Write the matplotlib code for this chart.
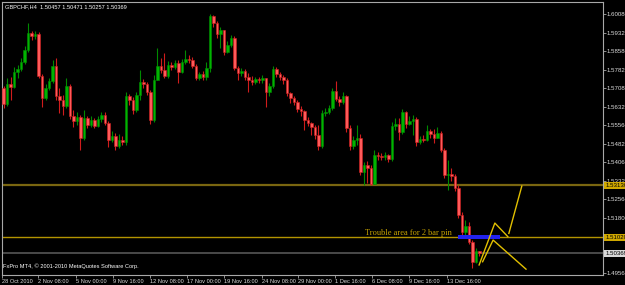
import matplotlib.pyplot as plt
from matplotlib import font_manager
import numpy as np

# narrow font if there is one, else Liberation Sans a bit smaller
installed = {f.name for f in font_manager.fontManager.ttflist}
if 'Liberation Sans Narrow' in installed:
    small_font, small_size, ylab_size = 'Liberation Sans Narrow', 4.8, 5.3
else:
    small_font, small_size, ylab_size = 'Liberation Sans', 4.1, 4.4
plt.rcParams['font.family'] = [small_font, 'DejaVu Sans']

symbol = "GBPCHF,H4"
first_open = 1.5708

# H4 candles
close = [
    1.5643, 1.5724, 1.5712, 1.5773, 1.5785, 1.5813, 1.5862, 1.5931, 1.5919, 1.5927,
    1.5757, 1.5667, 1.5708, 1.5736, 1.5797, 1.5676, 1.5659, 1.5635, 1.5716, 1.5594,
    1.5574, 1.5590, 1.5505, 1.5586, 1.5558, 1.5578, 1.5554, 1.5582, 1.5598, 1.5566,
    1.5497, 1.5513, 1.5473, 1.5497, 1.5489, 1.5676, 1.5659, 1.5619, 1.5680, 1.5732,
    1.5724, 1.5692, 1.5578, 1.5740, 1.5797, 1.5781, 1.5757, 1.5801, 1.5793, 1.5809,
    1.5773, 1.5813, 1.5826, 1.5822, 1.5797, 1.5749, 1.5765, 1.5753, 1.5789, 1.6000,
    1.5972, 1.5927, 1.5943, 1.5854, 1.5882, 1.5911, 1.5789, 1.5769, 1.5777, 1.5753,
    1.5740, 1.5732, 1.5745, 1.5740, 1.5749, 1.5692, 1.5716, 1.5785, 1.5765, 1.5753,
    1.5740, 1.5688, 1.5667, 1.5651, 1.5623, 1.5615, 1.5578, 1.5566, 1.5550, 1.5517,
    1.5473, 1.5607, 1.5611, 1.5627, 1.5696, 1.5663, 1.5651, 1.5676, 1.5546, 1.5473,
    1.5497, 1.5505, 1.5367, 1.5396, 1.5383, 1.5319, 1.5436, 1.5432, 1.5428, 1.5436,
    1.5420, 1.5554, 1.5562, 1.5529, 1.5611, 1.5562, 1.5574, 1.5582, 1.5489, 1.5501,
    1.5497, 1.5534, 1.5521, 1.5505, 1.5525, 1.5456, 1.5355, 1.5359, 1.5351, 1.5302,
    1.5193, 1.5124, 1.5148, 1.5083, 1.5002, 1.50457, 1.50369,
]
high = [
    1.5716, 1.5749, 1.5753, 1.5793, 1.5801, 1.5830, 1.5878, 1.5972, 1.5939, 1.5939,
    1.5935, 1.5765, 1.5724, 1.5749, 1.5822, 1.5830, 1.5708, 1.5680, 1.5749, 1.5724,
    1.5619, 1.5611, 1.5598, 1.5619, 1.5594, 1.5594, 1.5586, 1.5594, 1.5611, 1.5611,
    1.5574, 1.5534, 1.5525, 1.5521, 1.5513, 1.5692, 1.5684, 1.5671, 1.5692, 1.5781,
    1.5745, 1.5732, 1.5700, 1.5761, 1.5870, 1.5830, 1.5850, 1.5818, 1.5813, 1.5822,
    1.5822, 1.5826, 1.5862, 1.5842, 1.5834, 1.5805, 1.5773, 1.5777, 1.5813, 1.6008,
    1.6004, 1.5980, 1.5955, 1.5943, 1.5899, 1.5923, 1.5919, 1.5797, 1.5789, 1.5785,
    1.5769, 1.5757, 1.5753, 1.5753, 1.5761, 1.5749, 1.5728, 1.5797, 1.5793, 1.5773,
    1.5761, 1.5749, 1.5692, 1.5676, 1.5659, 1.5635, 1.5619, 1.5590, 1.5570, 1.5558,
    1.5558, 1.5619, 1.5627, 1.5639, 1.5708, 1.5736, 1.5676, 1.5692, 1.5680, 1.5558,
    1.5513, 1.5558, 1.5521, 1.5408, 1.5412, 1.5396, 1.5456, 1.5448, 1.5444, 1.5448,
    1.5440, 1.5570, 1.5586, 1.5586, 1.5623, 1.5615, 1.5594, 1.5598, 1.5590, 1.5513,
    1.5517, 1.5558, 1.5542, 1.5542, 1.5550, 1.5534, 1.5465, 1.5416, 1.5383, 1.5359,
    1.5314, 1.5205, 1.5172, 1.5164, 1.5091, 1.5059, 1.50471,
]
low = [
    1.5627, 1.5635, 1.5659, 1.5708, 1.5749, 1.5777, 1.5805, 1.5854, 1.5903, 1.5907,
    1.5749, 1.5631, 1.5659, 1.5700, 1.5728, 1.5659, 1.5607, 1.5598, 1.5627, 1.5582,
    1.5550, 1.5558, 1.5456, 1.5497, 1.5546, 1.5550, 1.5546, 1.5550, 1.5570, 1.5558,
    1.5469, 1.5489, 1.5456, 1.5465, 1.5477, 1.5477, 1.5639, 1.5603, 1.5611, 1.5659,
    1.5708, 1.5680, 1.5562, 1.5570, 1.5740, 1.5769, 1.5749, 1.5749, 1.5781, 1.5785,
    1.5728, 1.5769, 1.5805, 1.5809, 1.5789, 1.5740, 1.5740, 1.5740, 1.5740, 1.5773,
    1.5955, 1.5911, 1.5870, 1.5842, 1.5850, 1.5874, 1.5781, 1.5740, 1.5757, 1.5740,
    1.5692, 1.5720, 1.5724, 1.5728, 1.5728, 1.5631, 1.5676, 1.5708, 1.5753, 1.5740,
    1.5724, 1.5676, 1.5647, 1.5639, 1.5611, 1.5594, 1.5538, 1.5554, 1.5517, 1.5501,
    1.5456, 1.5465, 1.5594, 1.5603, 1.5619, 1.5655, 1.5635, 1.5643, 1.5529, 1.5456,
    1.5461, 1.5477, 1.5355, 1.5314, 1.5323, 1.5314, 1.5319, 1.5416, 1.5416, 1.5416,
    1.5408, 1.5412, 1.5538, 1.5497, 1.5521, 1.5546, 1.5558, 1.5517, 1.5473, 1.5481,
    1.5489, 1.5493, 1.5505, 1.5485, 1.5505, 1.5448, 1.5343, 1.5294, 1.5331, 1.5290,
    1.5180, 1.5112, 1.5112, 1.5075, 1.4978, 1.4998, 1.50257,
]

level_top = 1.53130
level_low = 1.51020
bid = 1.50369

y_ticks = [1.60080, 1.59320, 1.58580, 1.57820, 1.57080, 1.56320, 1.55560,
           1.54820, 1.54060, 1.53320, 1.52560, 1.51800, 1.51040, 1.49560]
x_labels = ["28 Oct 2010", "2 Nov 08:00", "5 Nov 00:00", "9 Nov 16:00",
            "12 Nov 08:00", "17 Nov 00:00", "19 Nov 16:00", "24 Nov 08:00",
            "29 Nov 00:00", "1 Dec 16:00", "6 Dec 08:00", "9 Dec 16:00",
            "13 Dec 16:00"]
x_label_bars = [-0.4, 9.9, 20.7, 31.3, 41.9, 52.4, 63.0, 73.9, 84.1, 94.7,
                105.3, 115.9, 126.6]

# hand drawn objects
zone_bars = (129.9, 141.9)
zone_prices = (1.5094, 1.5110)
path_up_bars = [135.9, 140.4, 144.1]
path_up_prices = [1.4990, 1.5160, 1.5105]
path_up2_bars = [144.4, 148.1]
path_up2_prices = [1.5118, 1.5310]
path_down_bars = [136.9, 139.9, 149.3]
path_down_prices = [1.5003, 1.5091, 1.4973]
note = "Trouble area for 2 bar pin"

open_ = [first_open] + close[:-1]
o = np.array(open_)
c = np.array(close)
h = np.array(high)
l = np.array(low)
x = np.arange(len(c))
up = c >= o

fig = plt.figure(figsize=(6.25, 2.85), dpi=100, facecolor='black')
ax = fig.add_axes([0.0032, 0.0351, 0.9616, 0.958])
ax.set_facecolor('black')

bull_face, bull_edge = '#00b400', '#008a00'
bear_face, bear_edge = '#ff5a5a', '#d01c1c'

ax.vlines(x[up], l[up], h[up], color=bull_edge, lw=0.8, zorder=2)
ax.vlines(x[~up], l[~up], h[~up], color=bear_edge, lw=0.8, zorder=2)
body = np.maximum(np.abs(c - o), 0.00004)
bottom = np.minimum(o, c)
ax.bar(x[up], body[up], bottom=bottom[up], width=0.6, color=bull_face,
       edgecolor=bull_edge, lw=0.4, zorder=3)
ax.bar(x[~up], body[~up], bottom=bottom[~up], width=0.6, color=bear_face,
       edgecolor=bear_edge, lw=0.4, zorder=3)

# levels
ax.axhline(level_top, color='#7a6610', lw=1.6, zorder=1)
ax.axhline(level_low, color='#b39400', lw=1.0, zorder=1)
ax.axhline(bid, color='#4a4a4a', lw=1.4, zorder=1)

ax.fill_between(zone_bars, zone_prices[0], zone_prices[1], color='#2222ee', lw=0, zorder=4)
ax.plot(path_up_bars, path_up_prices, color='#e2c000', lw=1.0, zorder=5)
ax.plot(path_up2_bars, path_up2_prices, color='#e2c000', lw=1.0, zorder=5)
ax.plot(path_down_bars, path_down_prices, color='#e2c000', lw=1.0, zorder=5)
ax.text(103.3, level_low + 0.0011, note, family=['Liberation Serif', 'DejaVu Serif'],
        fontsize=6.0, color='#c8a400', va='baseline', ha='left', zorder=5)

ax.set_xlim(-0.43, 171.3)
ax.set_ylim(1.49493, 1.60569)

ax.yaxis.tick_right()
ax.set_yticks(y_ticks)
ax.set_yticklabels([f"{v:.5f}" for v in y_ticks])
ax.set_xticks(x_label_bars)
ax.set_xticklabels(x_labels)
for lbl in ax.get_xticklabels():
    lbl.set_horizontalalignment('left')
ax.tick_params(axis='both', colors='#a8a8a8', labelcolor='#dcdcdc',
               labelsize=small_size, length=2, width=0.6, pad=0.8)
ax.tick_params(axis='y', labelsize=ylab_size)
for s in ax.spines.values():
    s.set_color('#a8a8a8')
    s.set_linewidth(0.8)

# price markers on the right scale
for val, bg, fg in [(level_top, '#d0a800', 'black'), (level_low, '#d0a800', 'black'),
                    (bid, '#d8d8d8', 'black')]:
    ax.annotate(f"{val:.5f}", xy=(1.0, val), xycoords=('axes fraction', 'data'),
                xytext=(1.8, 0), textcoords='offset points', fontsize=ylab_size,
                color=fg, va='center', ha='left', annotation_clip=False,
                bbox=dict(boxstyle='square,pad=0.2', fc=bg, ec='none'), zorder=10)

header = f"{symbol}  {open_[-1]:.5f} {high[-1]:.5f} {low[-1]:.5f} {close[-1]:.5f}"
ax.text(0.005, 0.99, header, transform=ax.transAxes, fontsize=small_size,
        color='white', va='top', ha='left')
ax.text(0.002, 0.022, "FxPro MT4, \u00a9 2001-2010 MetaQuotes Software Corp.",
        transform=ax.transAxes, fontsize=small_size, color='white', va='bottom', ha='left')

fig.savefig('out.png', dpi=100, facecolor='black')
